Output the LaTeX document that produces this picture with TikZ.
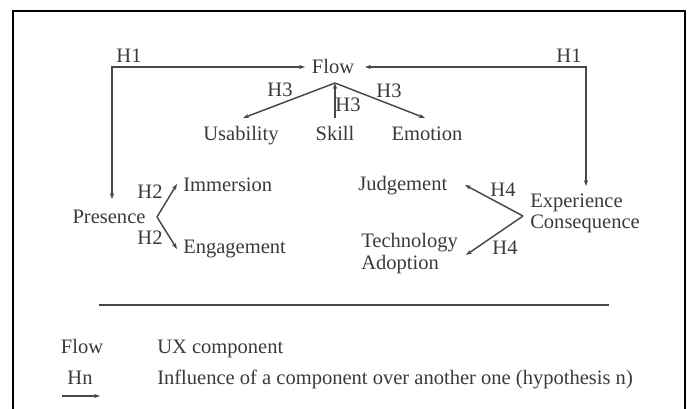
\documentclass[tikz,border=0pt]{standalone}
\usepackage{fontspec}
\setmainfont{Liberation Serif}
\usetikzlibrary{arrows.meta}
\definecolor{txt}{HTML}{3A3A3A}
\definecolor{ln}{HTML}{484848}
\begin{document}
\begin{tikzpicture}[x=0.75pt,y=-0.75pt,
  lbl/.style={text=txt, font=\fontsize{15.4}{17}\selectfont, inner sep=0pt, text height=10pt, text depth=0pt},
  arr/.style={draw=ln, line width=1.1pt, -{Stealth[length=4.5pt,width=3.2pt]}},
  darr/.style={draw=ln, line width=1.1pt, {Stealth[length=4.5pt,width=3.2pt]}-{Stealth[length=4.5pt,width=3.2pt]}},
  frame/.style={draw=black, line width=2.2pt},
  sep/.style={draw=ln, line width=1.3pt}]
\useasboundingbox (0,0) rectangle (689,408);
% frame
\coordinate (fbl) at (13,410);
\coordinate (ftl) at (13,11);
\coordinate (ftr) at (685,11);
\coordinate (fbr) at (685,410);
\draw[frame] (fbl) -- (ftl) -- (ftr) -- (fbr);

% nodes
\node[lbl] (flow) at (333,67) {Flow};
\node[lbl] (usab) at (241,134) {Usability};
\node[lbl] (skill) at (335,134) {Skill};
\node[lbl] (emo) at (427,134) {Emotion};
\node[lbl] (pres) at (109,217) {Presence};
\node[lbl, anchor=west] (imm) at (183,185) {Immersion};
\node[lbl, anchor=west] (eng) at (183,247) {Engagement};
\node[lbl, anchor=west] (judg) at (358,184) {Judgement};
\node[lbl, anchor=west] (tech) at (361,241) {Technology};
\node[lbl, anchor=west] (adopt) at (361,263) {Adoption};
\node[lbl, anchor=west] (exp) at (530,201) {Experience};
\node[lbl, anchor=west] (cons) at (530,222) {Consequence};

% hypothesis labels
\node[lbl] (h1l) at (129,56) {H1};
\node[lbl] (h1r) at (569,56) {H1};
\node[lbl] (h3a) at (280,90) {H3};
\node[lbl] (h3b) at (348,105) {H3};
\node[lbl] (h3c) at (389,91) {H3};
\node[lbl] (h2a) at (150,192) {H2};
\node[lbl] (h2b) at (150,238) {H2};
\node[lbl] (h4a) at (503,190) {H4};
\node[lbl] (h4b) at (505,248) {H4};

% connector points
\coordinate (fl) at (305,67);
\coordinate (fr) at (365,67);
\coordinate (cl) at (112,67);
\coordinate (cr) at (586,67);
\coordinate (pt) at (112,199);
\coordinate (et) at (586,186);
\coordinate (apex3) at (335,83);
\coordinate (ut) at (243,118);
\coordinate (st) at (335,118);
\coordinate (emt) at (425,118);
\coordinate (apex2) at (157,217);
\coordinate (it) at (177,184);
\coordinate (engt) at (177,249);
\coordinate (apex4) at (523,216);
\coordinate (jt) at (465,185);
\coordinate (tt) at (466,255);

% connectors
\draw[darr] (fl) -- (cl) -- (pt);
\draw[darr] (fr) -- (cr) -- (et);
\draw[arr] (apex3) -- (ut);
\draw[arr] (apex3) -- (emt);
\draw[arr] (st) -- (apex3);
\draw[arr] (apex2) -- (it);
\draw[arr] (apex2) -- (engt);
\draw[arr] (apex4) -- (jt);
\draw[arr] (apex4) -- (tt);

% separator
\coordinate (sl) at (99,305);
\coordinate (sr) at (609,305);
\draw[sep] (sl) -- (sr);

% legend
\node[lbl] (lflow) at (82,347) {Flow};
\node[lbl, anchor=west] (lux) at (157,347) {UX component};
\node[lbl] (lhn) at (80,378) {Hn};
\coordinate (la) at (62,396);
\coordinate (lb) at (100,396);
\draw[arr] (la) -- (lb);
\node[lbl, anchor=west] (linf) at (157,378) {Influence of a component over another one (hypothesis n)};
\end{tikzpicture}
\end{document}
